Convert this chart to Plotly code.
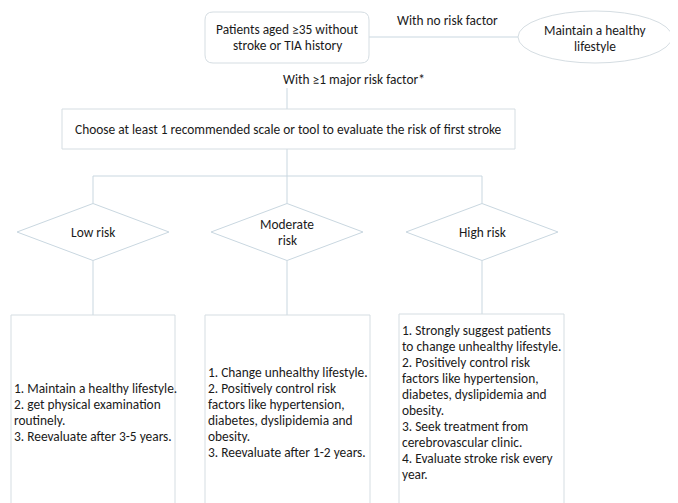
import plotly.graph_objects as go

W, H = 678, 503
OFF = 8  # browser body margin
FONT = "Carlito, Lato, sans-serif"
LINE = "#c9d7e0"
EDGE = "#d5dde2"
TXT = "#1a1a1a"
FS = 13.4
LH = 16

# ---- content ----
start_text = ["Patients aged ≥35 without", "stroke or TIA history"]
healthy_text = ["Maintain a healthy", "lifestyle"]
no_risk_label = "With no risk factor"
major_label = "With ≥1 major risk factor*"
eval_text = "Choose at least 1 recommended scale or tool to evaluate the risk of first stroke"
risk_levels = [["Low risk"], ["Moderate", "risk"], ["High risk"]]
advice = [
    ["1. Maintain a healthy lifestyle.", "2. get physical examination", "routinely.",
     "3. Reevaluate after 3-5 years."],
    ["1. Change unhealthy lifestyle.", "2. Positively control risk",
     "factors like hypertension,", "diabetes, dyslipidemia and", "obesity.",
     "3. Reevaluate after 1-2 years."],
    ["1. Strongly suggest patients", "to change unhealthy lifestyle.",
     "2. Positively control risk", "factors like hypertension,",
     "diabetes, dyslipidemia and", "obesity.", "3. Seek treatment from",
     "cerebrovascular clinic.", "4. Evaluate stroke risk every", "year."],
]

# ---- layout geometry ----
start_box = (205, 12, 369, 63)
ell = (595, 37, 77, 26)
eval_box = (62, 109, 515, 149)
branch_y = 176
col_x = [93, 287, 482]
dia_cy, dia_hw, dia_hh = 232, 76, 28.5
advice_boxes = [(11, 315, 175, 520), (205, 315, 370, 520), (399, 314, 564, 520)]
advice_cy = [412, 412, 402]

shapes = []
def line(x0, y0, x1, y1):
    shapes.append(dict(type="line", x0=x0, y0=y0, x1=x1, y1=y1,
                       line=dict(color=LINE, width=1)))

def rrect(x0, y0, x1, y1, r):
    p = (f"M{x0+r},{y0} L{x1-r},{y0} Q{x1},{y0} {x1},{y0+r} L{x1},{y1-r} "
         f"Q{x1},{y1} {x1-r},{y1} L{x0+r},{y1} Q{x0},{y1} {x0},{y1-r} "
         f"L{x0},{y0+r} Q{x0},{y0} {x0+r},{y0} Z")
    shapes.append(dict(type="path", path=p, line=dict(color=EDGE, width=1),
                       fillcolor="white"))

# connectors
line(start_box[2], 37, ell[0] - ell[2], 37)
line(287, 88, 287, eval_box[1])
line(287, eval_box[3], 287, branch_y)
line(col_x[0], branch_y, col_x[2], branch_y)
for cx in col_x:
    line(cx, branch_y, cx, dia_cy - dia_hh)
for cx, b in zip(col_x, advice_boxes):
    line(cx, dia_cy + dia_hh, cx, b[1])

# nodes
rrect(*start_box, 8)
shapes.append(dict(type="circle", x0=ell[0]-ell[2], y0=ell[1]-ell[3],
                   x1=ell[0]+ell[2], y1=ell[1]+ell[3],
                   line=dict(color=EDGE, width=1), fillcolor="white"))
shapes.append(dict(type="rect", x0=eval_box[0], y0=eval_box[1], x1=eval_box[2],
                   y1=eval_box[3], line=dict(color=EDGE, width=1), fillcolor="white"))
for cx in col_x:
    p = (f"M{cx},{dia_cy-dia_hh} L{cx+dia_hw},{dia_cy} L{cx},{dia_cy+dia_hh} "
         f"L{cx-dia_hw},{dia_cy} Z")
    shapes.append(dict(type="path", path=p, line=dict(color=LINE, width=1),
                       fillcolor="white"))
for b in advice_boxes:
    shapes.append(dict(type="rect", x0=b[0], y0=b[1], x1=b[2], y1=b[3],
                       line=dict(color=EDGE, width=1), fillcolor="white"))

ann = []
def text(x, y, t, xa="center"):
    ann.append(dict(x=x, y=y, text=t, xref="x", yref="y", showarrow=False,
                    xanchor=xa, yanchor="middle",
                    font=dict(family=FONT, size=FS, color=TXT)))

def block(x, cy, lines, xa="center"):
    n = len(lines)
    for i, t in enumerate(lines):
        text(x, cy + (i - (n - 1) / 2) * LH, t, xa)

block(287, 37, start_text)
block(ell[0], 38, healthy_text)
text(447, 20, no_risk_label)
text(354, 79, major_label)
text((eval_box[0]+eval_box[2])/2, 129, eval_text)
for cx, t in zip(col_x, risk_levels):
    block(cx, dia_cy, t)
for b, cy, t in zip(advice_boxes, advice_cy, advice):
    block(b[0] + 1, cy, t, xa="left")

fig = go.Figure()
fig.update_layout(
    width=W - OFF, height=H - OFF, margin=dict(l=0, r=0, t=0, b=0),
    paper_bgcolor="white", plot_bgcolor="white",
    xaxis=dict(range=[OFF, W], visible=False, fixedrange=True),
    yaxis=dict(range=[H, OFF], visible=False, fixedrange=True),
    shapes=shapes, annotations=ann, showlegend=False,
)
fig.write_html("out.html")
